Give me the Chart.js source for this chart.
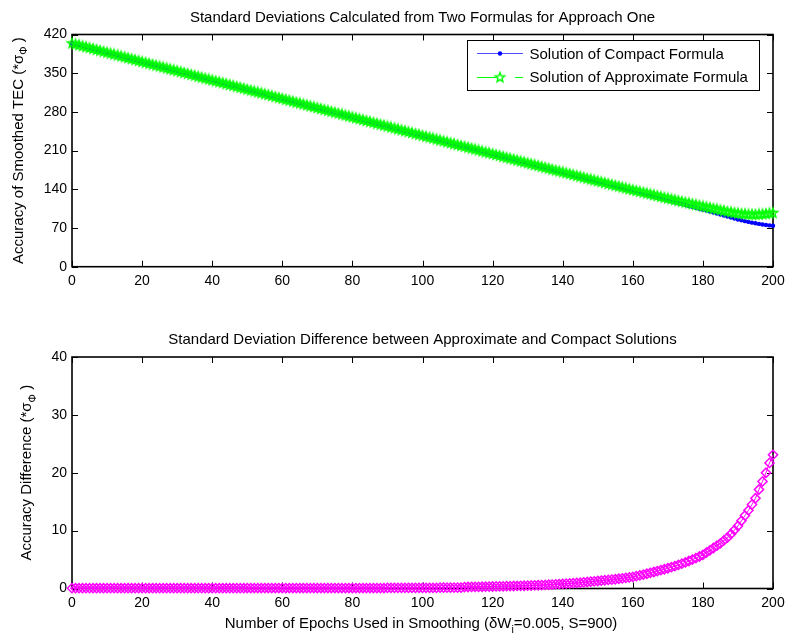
<!DOCTYPE html>
<html>
<head>
<meta charset="utf-8">
<script src="https://cdn.jsdelivr.net/npm/chart.js@4"></script>
<style>
  html, body { margin: 0; padding: 0; background: #fff; }
  #wrap { position: relative; width: 787px; height: 635px; }
  canvas { position: absolute; left: 0; }
  #top { top: 0; }
  #bottom { top: 300px; }
</style>
</head>
<body>
<div id="wrap">
  <canvas id="top" width="787" height="300"></canvas>
  <canvas id="bottom" width="787" height="335"></canvas>
</div>
<script>
// Number of epochs used in smoothing
const epochs = [
  0,1,2,3,4,5,6,7,8,9,10,11,12,13,14,15,16,17,18,19,
  20,21,22,23,24,25,26,27,28,29,30,31,32,33,34,35,36,37,38,39,
  40,41,42,43,44,45,46,47,48,49,50,51,52,53,54,55,56,57,58,59,
  60,61,62,63,64,65,66,67,68,69,70,71,72,73,74,75,76,77,78,79,
  80,81,82,83,84,85,86,87,88,89,90,91,92,93,94,95,96,97,98,99,
  100,101,102,103,104,105,106,107,108,109,110,111,112,113,114,115,116,117,118,119,
  120,121,122,123,124,125,126,127,128,129,130,131,132,133,134,135,136,137,138,139,
  140,141,142,143,144,145,146,147,148,149,150,151,152,153,154,155,156,157,158,159,
  160,161,162,163,164,165,166,167,168,169,170,171,172,173,174,175,176,177,178,179,
  180,181,182,183,184,185,186,187,188,189,190,191,192,193,194,195,196,197,198,199,
  200
];

// Accuracy of smoothed TEC, compact formula (*sigma_phi)
const compactSolution = [
  403.8,402.1,400.5,398.8,397.1,395.5,393.8,392.1,390.4,388.8,
  387.1,385.4,383.8,382.1,380.4,378.8,377.1,375.4,373.7,372.1,
  370.4,368.7,367.1,365.4,363.7,362.1,360.4,358.7,357.0,355.4,
  353.7,352.0,350.4,348.7,347.0,345.4,343.7,342.0,340.3,338.7,
  337.0,335.3,333.7,332.0,330.3,328.7,327.0,325.3,323.6,322.0,
  320.3,318.6,317.0,315.3,313.6,312.0,310.3,308.6,306.9,305.3,
  303.6,301.9,300.3,298.6,296.9,295.3,293.6,291.9,290.2,288.6,
  286.9,285.2,283.6,281.9,280.2,278.6,276.9,275.2,273.5,271.9,
  270.2,268.5,266.9,265.2,263.5,261.9,260.2,258.5,256.8,255.2,
  253.5,251.8,250.2,248.5,246.8,245.2,243.5,241.8,240.1,238.5,
  236.8,235.1,233.5,231.8,230.1,228.5,226.8,225.1,223.4,221.8,
  220.1,218.4,216.8,215.1,213.4,211.8,210.1,208.4,206.7,205.1,
  203.4,201.7,200.1,198.4,196.7,195.1,193.4,191.7,190.0,188.4,
  186.7,185.0,183.4,181.7,180.0,178.4,176.7,175.0,173.3,171.7,
  170.0,168.3,166.7,165.0,163.3,161.7,160.0,158.3,156.6,155.0,
  153.3,151.6,150.0,148.3,146.6,145.0,143.3,141.6,139.9,138.3,
  136.6,134.9,133.3,131.6,129.9,128.3,126.6,124.9,123.2,121.6,
  119.9,118.2,116.6,114.9,113.2,111.6,109.9,108.2,106.5,104.9,
  103.2,101.5,99.8,98.0,96.2,94.4,92.6,90.8,89.0,87.2,
  85.5,83.9,82.4,81.0,79.7,78.5,77.4,76.4,75.5,74.7,
  74.0
];

// Accuracy of smoothed TEC, approximate formula (*sigma_phi)
const approximateSolution = [
  403.9,402.2,400.6,398.9,397.2,395.6,393.9,392.2,390.5,388.9,
  387.2,385.5,383.9,382.2,380.5,378.9,377.2,375.5,373.8,372.2,
  370.5,368.8,367.2,365.5,363.8,362.2,360.5,358.8,357.1,355.5,
  353.8,352.1,350.5,348.8,347.1,345.5,343.8,342.1,340.4,338.8,
  337.1,335.4,333.8,332.1,330.4,328.8,327.1,325.4,323.7,322.1,
  320.4,318.7,317.1,315.4,313.7,312.1,310.4,308.7,307.0,305.4,
  303.7,302.0,300.4,298.7,297.0,295.4,293.7,292.0,290.3,288.7,
  287.0,285.3,283.7,282.0,280.3,278.7,277.0,275.3,273.6,272.0,
  270.3,268.6,267.0,265.3,263.6,262.0,260.3,258.6,256.9,255.3,
  253.6,251.9,250.3,248.6,246.9,245.3,243.6,241.9,240.2,238.6,
  236.9,235.2,233.6,231.9,230.2,228.6,226.9,225.2,223.5,221.9,
  220.2,218.5,217.1,215.4,213.7,212.1,210.4,208.7,207.0,205.4,
  203.8,202.1,200.5,198.8,197.1,195.5,193.8,192.1,190.5,188.9,
  187.2,185.5,183.9,182.3,180.6,179.0,177.4,175.7,174.0,172.5,
  170.8,169.1,167.6,165.9,164.3,162.7,161.1,159.4,157.8,156.2,
  154.6,153.0,151.4,149.8,148.1,146.6,145.0,143.4,141.7,140.2,
  138.6,137.0,135.6,134.0,132.5,131.0,129.5,127.9,126.4,124.9,
  123.4,121.9,120.5,119.0,117.5,116.1,114.7,113.2,111.8,110.4,
  109.0,107.7,106.4,105.0,103.6,102.2,100.9,99.6,98.4,97.3,
  96.3,95.6,95.0,94.5,94.2,94.1,94.5,94.9,95.5,96.4,
  97.1
];

// Accuracy difference, approximate minus compact (*sigma_phi)
const accuracyDifference = [
  0.05,0.05,0.05,0.05,0.05,0.05,0.05,0.05,0.05,0.05,
  0.05,0.05,0.05,0.05,0.05,0.05,0.05,0.05,0.05,0.05,
  0.05,0.05,0.05,0.05,0.05,0.05,0.05,0.05,0.05,0.05,
  0.05,0.05,0.05,0.05,0.05,0.05,0.05,0.05,0.05,0.05,
  0.05,0.05,0.05,0.05,0.05,0.05,0.05,0.05,0.05,0.05,
  0.08,0.08,0.08,0.08,0.08,0.08,0.08,0.08,0.08,0.08,
  0.08,0.08,0.08,0.08,0.08,0.08,0.08,0.08,0.08,0.08,
  0.08,0.08,0.08,0.08,0.08,0.08,0.08,0.08,0.08,0.08,
  0.08,0.08,0.08,0.08,0.08,0.08,0.08,0.08,0.08,0.08,
  0.12,0.12,0.12,0.12,0.12,0.12,0.12,0.12,0.12,0.12,
  0.12,0.12,0.12,0.12,0.12,0.16,0.16,0.16,0.16,0.16,
  0.16,0.16,0.25,0.26,0.27,0.28,0.29,0.30,0.31,0.33,
  0.35,0.36,0.37,0.38,0.40,0.41,0.43,0.44,0.46,0.48,
  0.50,0.52,0.54,0.56,0.59,0.62,0.65,0.68,0.72,0.76,
  0.80,0.84,0.88,0.92,0.96,1.00,1.06,1.12,1.18,1.24,
  1.30,1.36,1.42,1.48,1.54,1.60,1.68,1.76,1.84,1.92,
  2.00,2.13,2.27,2.41,2.55,2.70,2.85,3.01,3.17,3.33,
  3.50,3.69,3.88,4.08,4.29,4.50,4.75,5.00,5.26,5.53,
  5.80,6.20,6.60,7.00,7.40,7.80,8.30,8.80,9.40,10.10,
  10.80,11.70,12.60,13.50,14.50,15.60,17.10,18.50,20.00,21.70,
  23.10
];

// Axis tick values
const epochTicks = [0, 20, 40, 60, 80, 100, 120, 140, 160, 180, 200];
const accuracyTicks = [0, 70, 140, 210, 280, 350, 420];
const differenceTicks = [0, 10, 20, 30, 40];

const FONT = '"Liberation Sans", Arial, Helvetica, sans-serif';
const BLUE = '#0000ff';
const GREEN = '#00ff00';
const MAGENTA = '#ff00ff';

// Outlined five-pointed star marker
function makePentagram(color, R, lw) {
  const size = Math.ceil(R * 2 + 4);
  const c = document.createElement('canvas');
  c.width = size; c.height = size;
  const g = c.getContext('2d');
  const cx = size / 2, cy = size / 2, r = R * 0.42;
  g.beginPath();
  for (let k = 0; k < 10; k++) {
    const ang = -Math.PI / 2 + k * Math.PI / 5;
    const rad = k % 2 === 0 ? R : r;
    const px = cx + rad * Math.cos(ang), py = cy + rad * Math.sin(ang);
    if (k === 0) g.moveTo(px, py); else g.lineTo(px, py);
  }
  g.closePath();
  g.strokeStyle = color;
  g.lineWidth = lw;
  g.lineJoin = 'miter';
  g.stroke();
  return c;
}
const starMarker = makePentagram(GREEN, 5, 1.4);

const points = (ys) => epochs.map((e, i) => ({ x: e, y: ys[i] }));

// Box with inward ticks on all four sides
const framePlugin = {
  id: 'frameTicks',
  beforeDatasetsDraw(chart) {
    const { ctx, chartArea: a, scales: { x, y } } = chart;
    const L = 6;
    ctx.save();
    ctx.strokeStyle = '#000';
    ctx.lineWidth = 1;
    ctx.beginPath();
    x.ticks.forEach(t => {
      const px = Math.round(x.getPixelForValue(t.value)) + 0.5;
      ctx.moveTo(px, a.bottom); ctx.lineTo(px, a.bottom - L);
      ctx.moveTo(px, a.top); ctx.lineTo(px, a.top + L);
    });
    y.ticks.forEach(t => {
      const py = Math.round(y.getPixelForValue(t.value)) + 0.5;
      ctx.moveTo(a.left, py); ctx.lineTo(a.left + L, py);
      ctx.moveTo(a.right, py); ctx.lineTo(a.right - L, py);
    });
    ctx.stroke();
    ctx.lineWidth = 1.6;
    ctx.strokeRect(a.left, a.top, a.right - a.left, a.bottom - a.top);
    ctx.restore();
  }
};

// Draws a run of text pieces; pieces flagged sub are smaller and lowered
function drawRuns(ctx, runs, x, y, size) {
  let cx = x;
  runs.forEach(r => {
    const s = r.sub ? size * 0.7 : size;
    ctx.font = s + 'px ' + FONT;
    ctx.fillText(r.t, cx, r.sub ? y + size * 0.3 : y);
    cx += ctx.measureText(r.t).width;
  });
}
function runsWidth(ctx, runs, size) {
  let w = 0;
  runs.forEach(r => {
    ctx.font = (r.sub ? size * 0.7 : size) + 'px ' + FONT;
    w += ctx.measureText(r.t).width;
  });
  return w;
}

function labelPlugin(opts) {
  return {
    id: 'labels',
    afterDraw(chart) {
      const { ctx, chartArea: a } = chart;
      const midX = (a.left + a.right) / 2;
      const midY = (a.top + a.bottom) / 2;
      ctx.save();
      ctx.fillStyle = '#000';
      ctx.textBaseline = 'alphabetic';
      ctx.textAlign = 'left';
      // title
      ctx.font = '15px ' + FONT;
      const tw = ctx.measureText(opts.title).width;
      ctx.fillText(opts.title, midX - tw / 2, opts.titleY);
      // y axis title, rotated
      ctx.save();
      ctx.translate(opts.yTitleX, midY);
      ctx.rotate(-Math.PI / 2);
      const yw = runsWidth(ctx, opts.yTitle, 15);
      drawRuns(ctx, opts.yTitle, -yw / 2, 0, 15);
      ctx.restore();
      // x axis title
      if (opts.xTitle) {
        const xw = runsWidth(ctx, opts.xTitle, 15);
        drawRuns(ctx, opts.xTitle, opts.xTitleX - xw / 2, opts.xTitleY, 15);
      }
      if (opts.legend) opts.legend(ctx);
      ctx.restore();
    }
  };
}

function drawLegend(ctx) {
  const bx = 467.5, by = 40.5, bw = 292, bh = 50;
  ctx.save();
  ctx.fillStyle = '#fff';
  ctx.fillRect(bx, by, bw, bh);
  ctx.strokeStyle = '#000';
  ctx.lineWidth = 1;
  ctx.strokeRect(bx, by, bw, bh);
  // compact entry: solid line with dot
  ctx.strokeStyle = '#4d4dff';
  ctx.beginPath(); ctx.moveTo(477, 53.5); ctx.lineTo(523, 53.5); ctx.stroke();
  ctx.fillStyle = BLUE;
  ctx.beginPath(); ctx.arc(500, 53.5, 2.2, 0, Math.PI * 2); ctx.fill();
  // approximate entry: dashed line with star
  ctx.strokeStyle = GREEN;
  ctx.beginPath();
  ctx.moveTo(477, 77.5); ctx.lineTo(497, 77.5);
  ctx.moveTo(515, 77.5); ctx.lineTo(523, 77.5);
  ctx.stroke();
  ctx.drawImage(starMarker, 500 - starMarker.width / 2, 77.5 - starMarker.height / 2);
  ctx.fillStyle = '#000';
  ctx.font = '15px ' + FONT;
  ctx.fillText('Solution of Compact Formula', 529.5, 58.8);
  ctx.fillText('Solution of Approximate Formula', 529.5, 82.2);
  ctx.restore();
}

function axes(xHeight, yMax, yTicks) {
  const tickFont = { family: FONT, size: 14 };
  return {
    x: {
      type: 'linear', min: 0, max: 200,
      afterBuildTicks: s => { s.ticks = epochTicks.map(v => ({ value: v })); },
      ticks: { font: tickFont, color: '#000', padding: 6, maxRotation: 0, autoSkip: false },
      grid: { display: false, drawTicks: false },
      border: { display: false },
      afterFit: s => { s.height = xHeight; s.paddingLeft = 0; s.paddingRight = 0; }
    },
    y: {
      type: 'linear', min: 0, max: yMax,
      afterBuildTicks: s => { s.ticks = yTicks.map(v => ({ value: v })); },
      ticks: { font: tickFont, color: '#000', padding: 5, autoSkip: false },
      grid: { display: false, drawTicks: false },
      border: { display: false },
      afterFit: s => { s.width = 72; s.paddingTop = 0; s.paddingBottom = 0; }
    }
  };
}

const common = {
  responsive: false,
  animation: false,
  devicePixelRatio: 1,
  events: [],
  plugins: { legend: { display: false }, tooltip: { enabled: false }, title: { display: false } }
};

new Chart(document.getElementById('top'), {
  type: 'line',
  data: {
    datasets: [
      {
        label: 'Solution of Approximate Formula',
        data: points(approximateSolution),
        borderColor: GREEN, borderWidth: 1, borderDash: [6, 4],
        pointStyle: starMarker, pointRadius: 5,
        clip: false, order: 0
      },
      {
        label: 'Solution of Compact Formula',
        data: points(compactSolution),
        borderColor: BLUE, borderWidth: 1.2,
        pointStyle: 'circle', pointRadius: 2.2,
        pointBackgroundColor: BLUE, pointBorderWidth: 0,
        clip: false, order: 1
      }
    ]
  },
  options: Object.assign({}, common, {
    layout: { padding: { left: 0, right: 14, top: 34.5, bottom: 0 } },
    scales: axes(33.3, 420, accuracyTicks)
  }),
  plugins: [framePlugin, labelPlugin({
    title: 'Standard Deviations Calculated from Two Formulas for Approach One',
    titleY: 22.4,
    yTitleX: 22.5,
    yTitle: [{ t: 'Accuracy of Smoothed TEC (*σ' }, { t: 'Φ', sub: true }, { t: ' )' }],
    legend: drawLegend
  })]
});

new Chart(document.getElementById('bottom'), {
  type: 'line',
  data: {
    datasets: [
      {
        label: 'Accuracy Difference',
        data: points(accuracyDifference),
        borderColor: MAGENTA, borderWidth: 1,
        pointStyle: 'rectRot', pointRadius: 4.6,
        pointBorderColor: MAGENTA, pointBackgroundColor: 'rgba(0,0,0,0)', pointBorderWidth: 1.5,
        clip: false
      }
    ]
  },
  options: Object.assign({}, common, {
    layout: { padding: { left: 0, right: 14, top: 57, bottom: 0 } },
    scales: axes(46.5, 40, differenceTicks)
  }),
  plugins: [framePlugin, labelPlugin({
    title: 'Standard Deviation Difference between Approximate and Compact Solutions',
    titleY: 44.4,
    yTitleX: 31,
    yTitle: [{ t: 'Accuracy Difference (*σ' }, { t: 'Φ', sub: true }, { t: ' )' }],
    xTitle: [{ t: 'Number of Epochs Used in Smoothing (δW' }, { t: 'i', sub: true }, { t: '=0.005, S=900)' }],
    xTitleX: 421,
    xTitleY: 328.3
  })]
});
</script>
</body>
</html>
